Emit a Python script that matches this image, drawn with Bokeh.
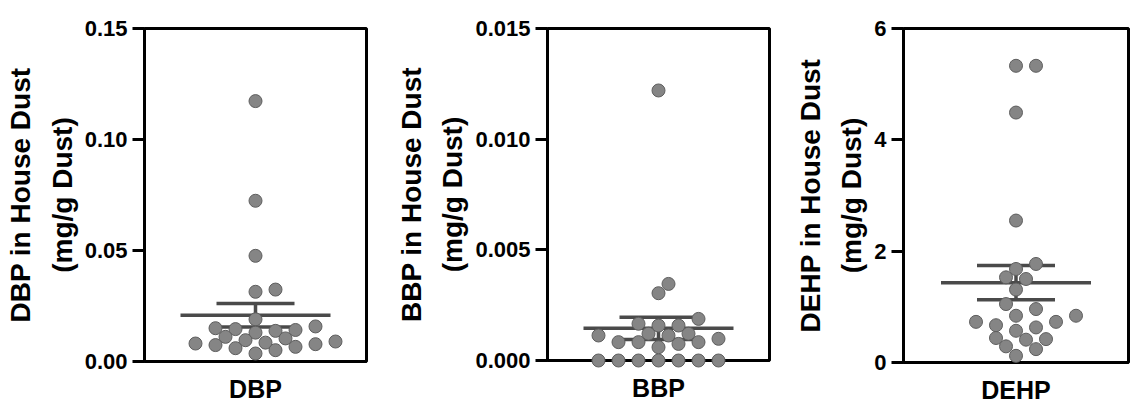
import numpy as np
from bokeh.plotting import figure
from bokeh.layouts import row
from bokeh.models import Range1d, FixedTicker, NumeralTickFormatter
from bokeh.embed import file_html
from bokeh.resources import INLINE

# ---------------- data ----------------
categories = ["DBP", "BBP", "DEHP"]

dbp_values = [0.1173, 0.0724, 0.0476, 0.0324, 0.0314, 0.0190,
              0.0158, 0.0150, 0.0146, 0.0142, 0.0138, 0.0130,
              0.0111, 0.0104, 0.0096, 0.0090, 0.0085, 0.0081,
              0.0078, 0.0074, 0.0066, 0.0060, 0.0051, 0.0036]

bbp_values = [0.0122, 0.00346, 0.00304, 0.00188, 0.00166, 0.00158, 0.00158,
              0.00121, 0.00121, 0.00113, 0.00113, 0.00098, 0.00083, 0.00083,
              0.00083, 0.00075, 0.00060, 0.0, 0.0, 0.0, 0.0, 0.0, 0.0, 0.0]

dehp_values = [5.33, 5.33, 4.49, 2.55, 1.77, 1.68, 1.53, 1.50, 1.31, 1.05,
               0.96, 0.84, 0.84, 0.73, 0.73, 0.67, 0.63, 0.57, 0.44, 0.42,
               0.41, 0.29, 0.24, 0.12]

y_axis_labels = ["DBP in House Dust\n(mg/g Dust)",
                 "BBP in House Dust\n(mg/g Dust)",
                 "DEHP in House Dust\n(mg/g Dust)"]

y_ticks = [[0, 0.05, 0.10, 0.15],
           [0, 0.005, 0.010, 0.015],
           [0, 2, 4, 6]]
y_tick_labels = [["0.00", "0.05", "0.10", "0.15"],
                 ["0.000", "0.005", "0.010", "0.015"],
                 ["0", "2", "4", "6"]]
y_formats = ["0.00", "0.000", "0"]

all_values = [dbp_values, bbp_values, dehp_values]

# ---------------- layout / style ----------------
FONT = "Liberation Sans"
frames = [  # frame_w, frame_h, border_left, border_right, border_top, border_bottom
    (222, 333, 144, 5, 25, 44),
    (222, 332, 176, 5, 28, 42),
    (225, 334, 129, 3, 26, 42),
]
POINT_D = 13
MEAN_HALF_PX = 75
CAP_HALF_PX = 39
LINE_COLOR = "#4a4a4a"


def swarm_offsets(values, px_per_unit, min_dist=12.5, step=10.0):
    """Greedy beeswarm: returns horizontal pixel offsets."""
    vals = np.asarray(values, dtype=float)
    order = np.argsort(vals, kind="stable")
    cands = [0]
    for j in range(1, 60):
        cands += [j, -j]
    placed = []
    offs = np.zeros(len(vals))
    for i in order:
        y = vals[i] * px_per_unit
        x = 0.0
        for c in cands:
            x = c * step
            if all((x - px) ** 2 + (y - py) ** 2 >= min_dist ** 2 - 1e-9 for px, py in placed):
                break
        placed.append((x, y))
        offs[i] = x
    return offs


figs = []
for k in range(3):
    fw, fh, bl, br, bt, bb = frames[k]
    vals = np.asarray(all_values[k], dtype=float)
    ymax = y_ticks[k][-1]
    p = figure(frame_width=fw, frame_height=fh,
               min_border_left=bl, min_border_right=br,
               min_border_top=bt, min_border_bottom=bb,
               x_range=Range1d(0, 1), y_range=Range1d(0, ymax),
               output_backend="svg", toolbar_location=None)
    p.grid.visible = False
    p.outline_line_color = "black"
    p.outline_line_width = 3
    p.outline_line_alpha = 1.0
    p.background_fill_color = "white"
    p.border_fill_color = "white"

    # y axis
    ya = p.yaxis[0]
    ya.ticker = FixedTicker(ticks=y_ticks[k])
    ya.formatter = NumeralTickFormatter(format=y_formats[k])
    ya.major_label_overrides = {t: s for t, s in zip(y_ticks[k], y_tick_labels[k])}
    ya.axis_line_width = 3
    ya.major_tick_line_width = 3
    ya.major_tick_out = 12
    ya.major_tick_in = 0
    ya.minor_tick_out = 0
    ya.minor_tick_in = 0
    ya.major_label_standoff = 5
    ya.major_label_text_font = FONT
    ya.major_label_text_font_style = "bold"
    ya.major_label_text_font_size = "22px"
    ya.major_label_text_color = "black"
    ya.axis_label = y_axis_labels[k]
    ya.axis_label_text_font = FONT
    ya.axis_label_text_font_style = "bold"
    ya.axis_label_text_font_size = "28px"
    ya.axis_label_text_line_height = 1.34
    ya.axis_label_text_color = "black"
    ya.axis_label_standoff = 4

    # x axis (single category)
    xa = p.xaxis[0]
    xa.ticker = FixedTicker(ticks=[0.5])
    xa.major_label_overrides = {0.5: categories[k]}
    xa.axis_line_width = 3
    xa.major_tick_out = 0
    xa.major_tick_in = 0
    xa.minor_tick_out = 0
    xa.minor_tick_in = 0
    xa.major_label_standoff = 13
    xa.major_label_text_font = FONT
    xa.major_label_text_font_style = "bold"
    xa.major_label_text_font_size = "25px"
    xa.major_label_text_color = "black"

    # statistics from the data
    mean = float(np.mean(vals))
    sem = float(np.std(vals, ddof=1) / np.sqrt(len(vals)))
    mh = MEAN_HALF_PX / fw
    ch = CAP_HALF_PX / fw
    p.segment(x0=[0.5 - mh], x1=[0.5 + mh], y0=[mean], y1=[mean],
              line_color=LINE_COLOR, line_width=3.5)
    p.segment(x0=[0.5 - ch, 0.5 - ch], x1=[0.5 + ch, 0.5 + ch],
              y0=[mean + sem, mean - sem], y1=[mean + sem, mean - sem],
              line_color=LINE_COLOR, line_width=3.5)
    p.segment(x0=[0.5], x1=[0.5], y0=[mean - sem], y1=[mean + sem],
              line_color=LINE_COLOR, line_width=3.5)

    # points (beeswarm)
    px_per_unit = fh / ymax
    offs = swarm_offsets(vals, px_per_unit)
    xs = 0.5 + offs / fw
    p.scatter(x=xs, y=vals, size=POINT_D, marker="circle",
              fill_color="#858585", line_color="#5e5e5e", line_width=1,
              level="annotation")
    figs.append(p)

layout = row(*figs, spacing=0)
open("out.html", "w").write(file_html(layout, INLINE))
